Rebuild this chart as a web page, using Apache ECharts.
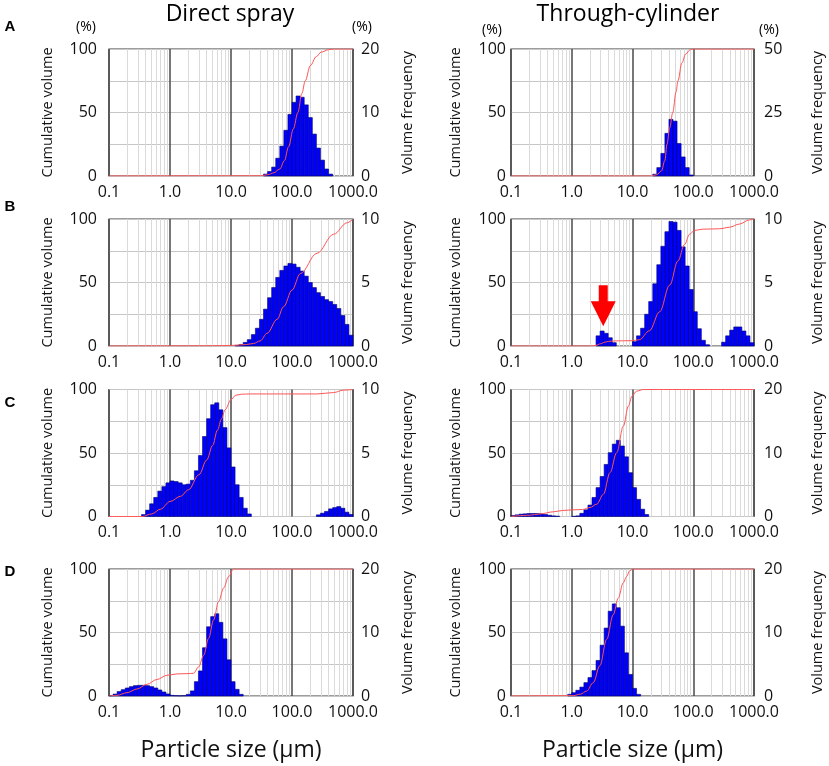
<!DOCTYPE html>
<html>
<head>
<meta charset="utf-8">
<script src="https://cdn.jsdelivr.net/npm/echarts@6/dist/echarts.min.js"></script>
<style>html,body{margin:0;padding:0;background:#fff}#c{width:829px;height:766px}</style>
</head>
<body>
<div id="c"></div>
<script>
// ---------- tick labels / categories ----------
const xTickLabels = ['0.1', '1.0', '10.0', '100.0', '1000.0'];
const minorGridSizes = [0.2,0.3,0.4,0.5,0.6,0.7,0.8,0.9, 2,3,4,5,6,7,8,9, 20,30,40,50,60,70,80,90, 200,300,400,500,600,700,800,900];
const BINS_PER_DECADE = 15;          // instrument channels per decade (0.1 µm .. 1000 µm)
const columnTitles = ['Direct spray', 'Through-cylinder'];
const rowLetters = ['A', 'B', 'C', 'D'];
const freqAxisMax = [20, 50, 10, 10, 10, 20, 20, 20];

// ---------- A : Direct spray ----------
const aDirectFreqStart = 38;
const aDirectFreq = [0.3,0.7,1.4,2.8,4.7,7.2,9.7,11.6,12.6,12.4,11.2,9.2,6.6,4.4,2.5,1.1,0.3];
const aDirectCumSize = [0.1,30,40,50,63,75,88,105,125,145,165,200,250,300,400,500,1000];
const aDirectCumPct  = [0,0.2,1,2.5,5.5,12,23,37,50,65,75,87,94,97.5,99.5,100,100];
// ---------- A : Through-cylinder ----------
const aThroughFreqStart = 35;
const aThroughFreq = [0.7,3.3,8.9,16.8,22.3,21.6,12.8,7.5,3.3,0.4];
const aThroughCumSize = [0.1,20,25,30,34,37,41,46,52,56,65,75,90,100,1000];
const aThroughCumPct  = [0,0,1,4,12,25,38,50,66,75,89,96,99.5,100,100];
// ---------- B : Direct spray ----------
const bDirectFreqStart = 31;
const bDirectFreq = [0.05,0.12,0.28,0.5,0.9,1.4,2.1,2.9,3.8,4.6,5.4,5.95,6.3,6.5,6.45,6.2,5.9,5.5,5.0,4.6,4.2,3.9,3.65,3.5,3.27,2.95,2.4,1.7,0.85];
const bDirectCumSize = [0.1,1,5,11,18,23.5,30,39,57,73,100,137,257,482,800,1000];
const bDirectCumPct  = [0,0.1,0.2,0.5,1.2,2,4,10,21,31,44,57,73,88,97,100];
// ---------- B : Through-cylinder ----------
const bThroughFreqStart = 21;
const bThroughFreq = [0.8,1.18,1.0,0.65,0.26, 0,0,0,0,
  0.34,0.8,1.4,2.5,3.5,4.9,6.4,7.85,9.0,9.8,9.75,9.1,7.8,6.3,4.45,2.7,1.36,0.45,0.1,
  0,0,0, 0.3,0.8,1.25,1.5,1.5,1.18,0.8,0.26];
const bThroughCumSize = [0.1,2,2.5,3,3.5,4,5,10,13,19,28,41,56,72,87,105,144,270,394,574,838,1000];
const bThroughCumPct  = [0,0,0.5,1.8,3,3.6,4,4.2,5,12,27,48,67,80,88,91,92,92.3,93.5,96,99.3,100];
const bThroughArrowAt = [3.3, 15.5];   // arrow tip (µm, %)
// ---------- C : Direct spray ----------
const cDirectFreqStart = 8;
const cDirectFreq = [0.15,0.5,1.0,1.5,2.0,2.35,2.65,2.8,2.75,2.65,2.5,2.55,2.85,3.6,4.8,6.3,7.7,8.8,8.95,8.4,7.0,5.4,3.9,2.5,1.5,0.65,0.2,
  0,0,0,0,0,0,0,0,0,0,0,0,0,0,0,0,
  0.13,0.26,0.4,0.6,0.7,0.78,0.65,0.34,0.16];
const cDirectCumSize = [0.1,0.35,0.5,0.7,1,1.5,2,3,4,5,6,7,8,10,12,15,20,257,482,700,1000];
const cDirectCumPct  = [0,0,2,5.8,11.8,16,21,33,44.5,56,68,77,84,92,95.5,96.3,96.5,96.5,97.6,99.5,100];
// ---------- C : Through-cylinder ----------
const cThroughFreqStart = 0;
const cThroughFreq = [0.16,0.26,0.37,0.42,0.47,0.47,0.47,0.42,0.31,0.2,0.1,0.05,
  0,0,0,0.03,0.1,
  0.5,1.05,1.8,3.0,4.55,6.3,8.2,10.05,11.4,12.0,11.1,9.4,6.9,4.55,2.7,1.15,0.31];
const cThroughCumSize = [0.1,0.2,0.3,0.5,0.7,1,1.5,2,2.58,3.32,4.27,5.5,7.08,8.55,9.82,11.7,15.1,1000];
const cThroughCumPct  = [0,1,2,3.7,4.7,5.2,5.5,7.1,9.7,17.5,34.6,50.3,71.2,86.9,94.8,98.7,100,100];
// ---------- D : Direct spray ----------
const dDirectFreqStart = 0;
const dDirectFreq = [0.05,0.3,0.7,1.0,1.26,1.47,1.63,1.68,1.68,1.63,1.47,1.26,0.95,0.63,0.32,0.1,0.05,0.03,0.05,
  0.26,0.8,2.26,3.95,7.6,10.9,12.5,12.95,11.6,9.0,5.7,2.26,1.05,0.26];
const dDirectCumSize = [0.1,0.135,0.197,0.288,0.42,0.61,0.89,1.3,1.9,2.44,2.95,3.56,4.3,5.19,6.27,7.57,9.14,11,1000];
const dDirectCumPct  = [0,0.5,2.6,5.5,9.2,13,16.3,17.4,17.6,17.9,23,32,45.5,60,74.5,85,94,100,100];
// ---------- D : Through-cylinder ----------
const dThroughFreqStart = 14;
const dThroughFreq = [0.26,0.52,0.9,1.4,2.1,2.9,4.0,5.6,8.0,10.7,13.35,14.5,13.9,11.0,6.8,3.4,1.2,0.26];
const dThroughCumSize = [0.1,1.06,1.4,1.76,2.26,2.91,3.75,4.82,5.82,7.02,7.98,9.04,10.2,1000];
const dThroughCumPct  = [0,0.3,1.5,3.9,10.5,24,44.5,64,77,89,94,98.7,100,100];

// ---------- table built from the arrays ----------
const panels = [
  [aDirectFreqStart, aDirectFreq, aDirectCumSize, aDirectCumPct],
  [aThroughFreqStart, aThroughFreq, aThroughCumSize, aThroughCumPct],
  [bDirectFreqStart, bDirectFreq, bDirectCumSize, bDirectCumPct],
  [bThroughFreqStart, bThroughFreq, bThroughCumSize, bThroughCumPct],
  [cDirectFreqStart, cDirectFreq, cDirectCumSize, cDirectCumPct],
  [cThroughFreqStart, cThroughFreq, cThroughCumSize, cThroughCumPct],
  [dDirectFreqStart, dDirectFreq, dDirectCumSize, dDirectCumPct],
  [dThroughFreqStart, dThroughFreq, dThroughCumSize, dThroughCumPct]
];

// ---------- layout / style ----------
const FONT = '"Open Sans", "Noto Sans", sans-serif';
const colLeft = [109, 511];
const colWidth = [244, 243];
const rowTop = [49, 219, 389.5, 569];
const plotH = 127;
const leftLabelMargin = [12, 5];
const rightLabelMargin = [8, 10];
const leftNameGap = [54, 48];
const rightNameGap = [47, 56];

function binEdge(k) { return Math.pow(10, -1 + k / BINS_PER_DECADE); }

function renderBar(params, api) {
  const v = api.value(2);
  if (!(v > 0)) return null;
  const p0 = api.coord([api.value(0), v]);
  const p1 = api.coord([api.value(1), 0]);
  return {
    type: 'rect',
    shape: { x: p0[0], y: p0[1], width: p1[0] - p0[0], height: p1[1] - p0[1] },
    style: { fill: '#0000ff', stroke: '#000070', lineWidth: 0.6 }
  };
}

const grids = [], xAxes = [], yAxes = [], series = [];
panels.forEach((p, i) => {
  const col = i % 2, row = Math.floor(i / 2);
  const [start, freq, cumSize, cumPct] = p;
  const M = freqAxisMax[i];
  grids.push({
    left: colLeft[col], top: rowTop[row], width: colWidth[col], height: plotH,
    show: true, borderColor: '#3c3c3c', borderWidth: 1.2, backgroundColor: '#fff'
  });
  xAxes.push({
    type: 'log', logBase: 10, gridIndex: i, min: 0.1, max: 1000, interval: 1,
    axisLine: { show: false }, axisTick: { show: false },
    splitLine: { show: true, lineStyle: { color: '#4a4a4a', width: 1.5 } },
    axisLabel: {
      show: true, showMinLabel: true, showMaxLabel: true,
      fontFamily: FONT, fontSize: 16, color: '#111', margin: 8,
      formatter: v => xTickLabels[Math.round(Math.log10(v)) + 1] || ''
    },
    name: row === 3 ? 'Particle size (µm)' : '',
    nameLocation: 'middle', nameGap: 43,
    nameTextStyle: { fontFamily: FONT, fontSize: 23, color: '#111' }
  });
  yAxes.push({
    type: 'value', gridIndex: i, position: 'left', min: 0, max: 100, interval: 25,
    axisLine: { show: false }, axisTick: { show: false },
    splitLine: { show: true, lineStyle: { color: '#c6c6c6', width: 1 } },
    axisLabel: {
      fontFamily: FONT, fontSize: 16, color: '#111', margin: leftLabelMargin[col],
      padding: [14, 0, 0, 0],
      formatter: v => (v % 50 === 0 ? String(v) : '')
    },
    name: 'Cumulative volume', nameLocation: 'middle', nameRotate: 90,
    nameGap: leftNameGap[col],
    nameTextStyle: { fontFamily: FONT, fontSize: 14.5, color: '#111' }
  });
  yAxes.push({
    type: 'value', gridIndex: i, position: 'right', min: 0, max: M, interval: M / 4,
    axisLine: { show: false }, axisTick: { show: false }, splitLine: { show: false },
    axisLabel: {
      fontFamily: FONT, fontSize: 16, color: '#111', margin: rightLabelMargin[col],
      padding: [14, 0, 0, 0],
      formatter: v => {
        const r = v / (M / 2);
        return Math.abs(r - Math.round(r)) < 1e-9 ? String(v) : '';
      }
    },
    name: 'Volume frequency', nameLocation: 'middle', nameRotate: 90,
    nameGap: rightNameGap[col],
    nameTextStyle: { fontFamily: FONT, fontSize: 14.5, color: '#111' }
  });
  // minor log grid lines (2..9 of each decade), kept beneath the bars
  series.push({
    type: 'line', xAxisIndex: i, yAxisIndex: 2 * i, data: [], silent: true, z: 1,
    markLine: {
      z: 1, silent: true, animation: false, symbol: ['none', 'none'],
      label: { show: false }, emphasis: { disabled: true },
      lineStyle: { color: '#dadada', width: 1, type: 'solid' },
      data: minorGridSizes.map(v => ({ xAxis: v }))
    }
  });
  // histogram (volume frequency)
  series.push({
    type: 'custom', xAxisIndex: i, yAxisIndex: 2 * i + 1, z: 3,
    renderItem: renderBar, encode: { x: [0, 1], y: 2 },
    data: freq.map((v, j) => [binEdge(start + j), binEdge(start + j + 1), v])
  });
  // cumulative volume
  const line = {
    type: 'line', xAxisIndex: i, yAxisIndex: 2 * i, z: 4,
    data: cumSize.map((s, j) => [s, cumPct[j]]),
    showSymbol: false, smooth: 0.35, smoothMonotone: 'x',
    lineStyle: { color: '#ff5555', width: 1 }
  };
  if (i === 3) {
    line.markPoint = {
      z: 6,
      symbol: 'path://M8,0 L17,0 L17,16 L25,16 L12.5,41 L0,16 L8,16 Z',
      symbolSize: [25, 41], symbolOffset: [0, '-50%'],
      itemStyle: { color: '#ff0000' }, label: { show: false },
      data: [{ coord: bThroughArrowAt }]
    };
  }
  series.push(line);
});

const graphics = [];
const titleX = [230, 628];
columnTitles.forEach((t, c) => graphics.push({
  type: 'text', x: titleX[c], y: 14,
  style: { text: t, font: '23px ' + FONT, fill: '#000', align: 'center', verticalAlign: 'middle', textAlign: 'center', textVerticalAlign: 'middle' }
}));
const pctPos = [[86, 27], [362, 27], [492, 30], [769, 30]];
pctPos.forEach(pp => graphics.push({
  type: 'text', x: pp[0], y: pp[1],
  style: { text: '(%)', font: '14px ' + FONT, fill: '#000', align: 'center', verticalAlign: 'middle', textAlign: 'center', textVerticalAlign: 'middle' }
}));
const letterY = [27, 207, 403, 572];
rowLetters.forEach((l, r) => graphics.push({
  type: 'text', x: 10, y: letterY[r],
  style: { text: l, font: 'bold 15px "Liberation Sans", Arial, sans-serif', fill: '#000', align: 'center', verticalAlign: 'middle', textAlign: 'center', textVerticalAlign: 'middle' }
}));

const chart = echarts.init(document.getElementById('c'), null, { renderer: 'canvas' });
chart.setOption({
  animation: false,
  backgroundColor: '#fff',
  textStyle: { fontFamily: FONT },
  grid: grids, xAxis: xAxes, yAxis: yAxes, series: series,
  graphic: graphics
});
</script>
</body>
</html>
